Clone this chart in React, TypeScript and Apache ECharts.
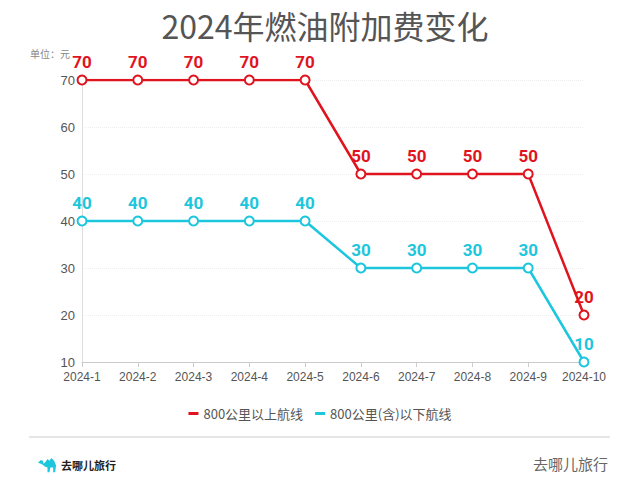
import { useEffect, useRef } from 'react'
import * as echarts from 'echarts'

const months = ['2024-1', '2024-2', '2024-3', '2024-4', '2024-5', '2024-6', '2024-7', '2024-8', '2024-9', '2024-10']
const longHaul = [70, 70, 70, 70, 70, 50, 50, 50, 50, 20]
const shortHaul = [40, 40, 40, 40, 40, 30, 30, 30, 30, 10]
const seriesNames = ['800公里以上航线', '800公里(含)以下航线']

const RED = '#e0141e'
const CYAN = '#1cc6dc'

// rough camel silhouette for the footer logo
const camelPath =
  'M0 5 L3 2 L5 3 L6 6 L8 4 L10 1 L12 3 L14 0 L17 3 L19 8 L18 15 L16 15 L16 10 L13 10 L12 15 L10 15 L10 10 L7 9 L5 7 L3 6 Z'

export default function App() {
  const ref = useRef<HTMLDivElement>(null)

  useEffect(() => {
    if (!ref.current) return
    document.body.style.margin = '0'
    echarts.graphic.registerShape('camel', echarts.graphic.extendPath(camelPath, {}) as any)
    const chart = echarts.init(ref.current, null, { renderer: 'svg' })

    const mkSeries = (name: string, data: number[], color: string) => ({
      name,
      type: 'line',
      data,
      symbol: 'emptyCircle',
      symbolSize: 9,
      lineStyle: { color, width: 2.5 },
      itemStyle: { color, borderWidth: 2 },
      label: {
        show: true,
        position: 'top',
        distance: 4,
        color,
        fontSize: 17,
        fontWeight: 'bold',
        fontFamily: 'Roboto, sans-serif'
      }
    })

    chart.setOption({
      animation: false,
      backgroundColor: '#fff',
      title: {
        text: '2024年燃油附加费变化',
        left: 320,
        textAlign: 'center',
        top: 4,
        textStyle: { color: '#555', fontSize: 32, fontWeight: 'normal', fontFamily: 'Noto Sans CJK SC' }
      },
      legend: {
        top: 402,
        left: 'center',
        itemWidth: 10,
        itemHeight: 3,
        itemGap: 12,
        icon: 'rect',
        textStyle: { color: '#555', fontSize: 13, fontFamily: 'Noto Sans CJK SC' },
        data: seriesNames
      },
      grid: { left: 82, right: 56, top: 80, bottom: 121 },
      xAxis: {
        type: 'category',
        data: months,
        boundaryGap: false,
        axisLine: { lineStyle: { color: '#ccc' } },
        axisTick: { show: true, alignWithLabel: true, lineStyle: { color: '#ccc' } },
        axisLabel: { color: '#555', fontSize: 12, margin: 9, interval: 0 }
      },
      yAxis: {
        type: 'value',
        min: 10,
        max: 70,
        interval: 10,
        axisLine: { show: true, lineStyle: { color: '#ddd' } },
        axisTick: { show: false },
        axisLabel: { color: '#555', fontSize: 13, margin: 7 },
        splitLine: { lineStyle: { color: '#eee', type: 'dotted' } }
      },
      series: [mkSeries(seriesNames[0], longHaul, RED), mkSeries(seriesNames[1], shortHaul, CYAN)],
      graphic: [
        {
          type: 'text',
          left: 30,
          top: 48,
          style: { text: '单位：元', fill: '#888', fontSize: 10, fontFamily: 'Noto Sans CJK SC' }
        },
        {
          type: 'line',
          shape: { x1: 29, y1: 437, x2: 610, y2: 437 },
          style: { stroke: '#e6e6e6', lineWidth: 2 }
        },
        {
          type: 'camel',
          x: 38,
          y: 458,
          scaleX: 0.95,
          scaleY: 0.95,
          style: { fill: CYAN }
        },
        {
          type: 'text',
          left: 61,
          top: 459,
          style: { text: '去哪儿旅行', fill: '#222', fontSize: 11, fontWeight: 'bold', fontFamily: 'Noto Sans CJK SC' }
        },
        {
          type: 'text',
          right: 32,
          top: 456,
          style: { text: '去哪儿旅行', fill: '#666', fontSize: 15, fontFamily: 'Noto Sans CJK SC' }
        }
      ]
    } as any)

    return () => chart.dispose()
  }, [])

  return <div ref={ref} style={{ width: 640, height: 483 }} />
}
